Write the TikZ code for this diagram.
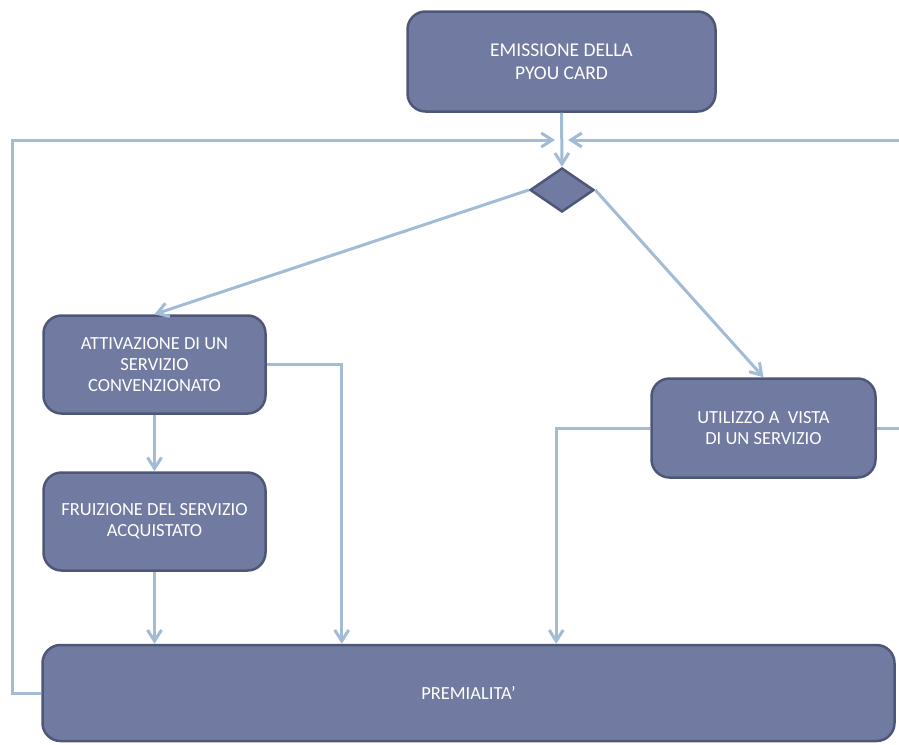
\documentclass[tikz,border=0pt]{standalone}
\usepackage{fontspec}
\setmainfont{Carlito}
\usepackage{xcolor}
\usepackage{tikz}
\usetikzlibrary{shapes,arrows,positioning,calc,arrows.meta}
\definecolor{boxfill}{RGB}{113,122,160}
\definecolor{boxline}{RGB}{79,87,120}
\definecolor{flowline}{RGB}{161,188,212}

\begin{document}
\begin{tikzpicture}[x=1pt, y=-1pt,
    stepbox/.style={draw=boxline, line width=2.5pt, fill=boxfill, rounded corners=18pt, text=white, align=center, inner sep=0pt, font=\fontsize{18.5}{21}\selectfont},
    choice/.style={diamond, draw=boxline, line width=2.5pt, fill=boxfill, minimum width=64pt, minimum height=44pt, inner sep=0pt},
    flow/.style={draw=flowline, line width=3pt, -{Straight Barb[length=11pt,width=14pt]}}]
    \useasboundingbox (0,0) rectangle (899,744);

    % Card issue and decision point
    \node (emis) at (561.5,61.5) [stepbox, minimum width=308pt, minimum height=100pt, font=\fontsize{19.5}{23.5}\selectfont] {EMISSIONE DELLA\\PYOU CARD};
    \node (dec) at (562,190) [choice] {};

    % Left branch
    \node (att) at (154.5,364.5) [stepbox, minimum width=222pt, minimum height=98pt] {ATTIVAZIONE DI UN\\SERVIZIO\\CONVENZIONATO};
    \node (fru) at (154.5,521.5) [stepbox, minimum width=222pt, minimum height=98pt] {FRUIZIONE DEL SERVIZIO\\ACQUISTATO};

    % Right branch
    \node (uti) at (763.5,428) [stepbox, minimum width=224pt, minimum height=99pt] {UTILIZZO A\ \ VISTA\\DI UN SERVIZIO};

    % Reward
    \node (prem) at (468.5,693) [stepbox, minimum width=852pt, minimum height=96pt] {PREMIALITA’};

    % Loop entries next to the card arrow
    \coordinate (inL) at (555,140);
    \coordinate (inR) at (568,140);

    % Connectors
    \draw [flow] (emis.south) -- (dec.north);
    \draw [flow] (dec.west) -- (att.north);
    \draw [flow] (dec.east) -- (uti.north);
    \draw [flow] (att.south) -- (fru.north);
    \draw [flow] (fru.south) -- (fru.south |- prem.north);
    \draw [flow] (att.east) -- ++(75,0) coordinate (attR) -- (attR |- prem.north);
    \draw [flow] (uti.west) -- ++(-94,0) coordinate (utiL) -- (utiL |- prem.north);
    \draw [flow] (prem.west) -- ++(-29,0) |- (inL);
    \draw [flow] (uti.east) -- ++(32,0) |- (inR);
\end{tikzpicture}
\end{document}
